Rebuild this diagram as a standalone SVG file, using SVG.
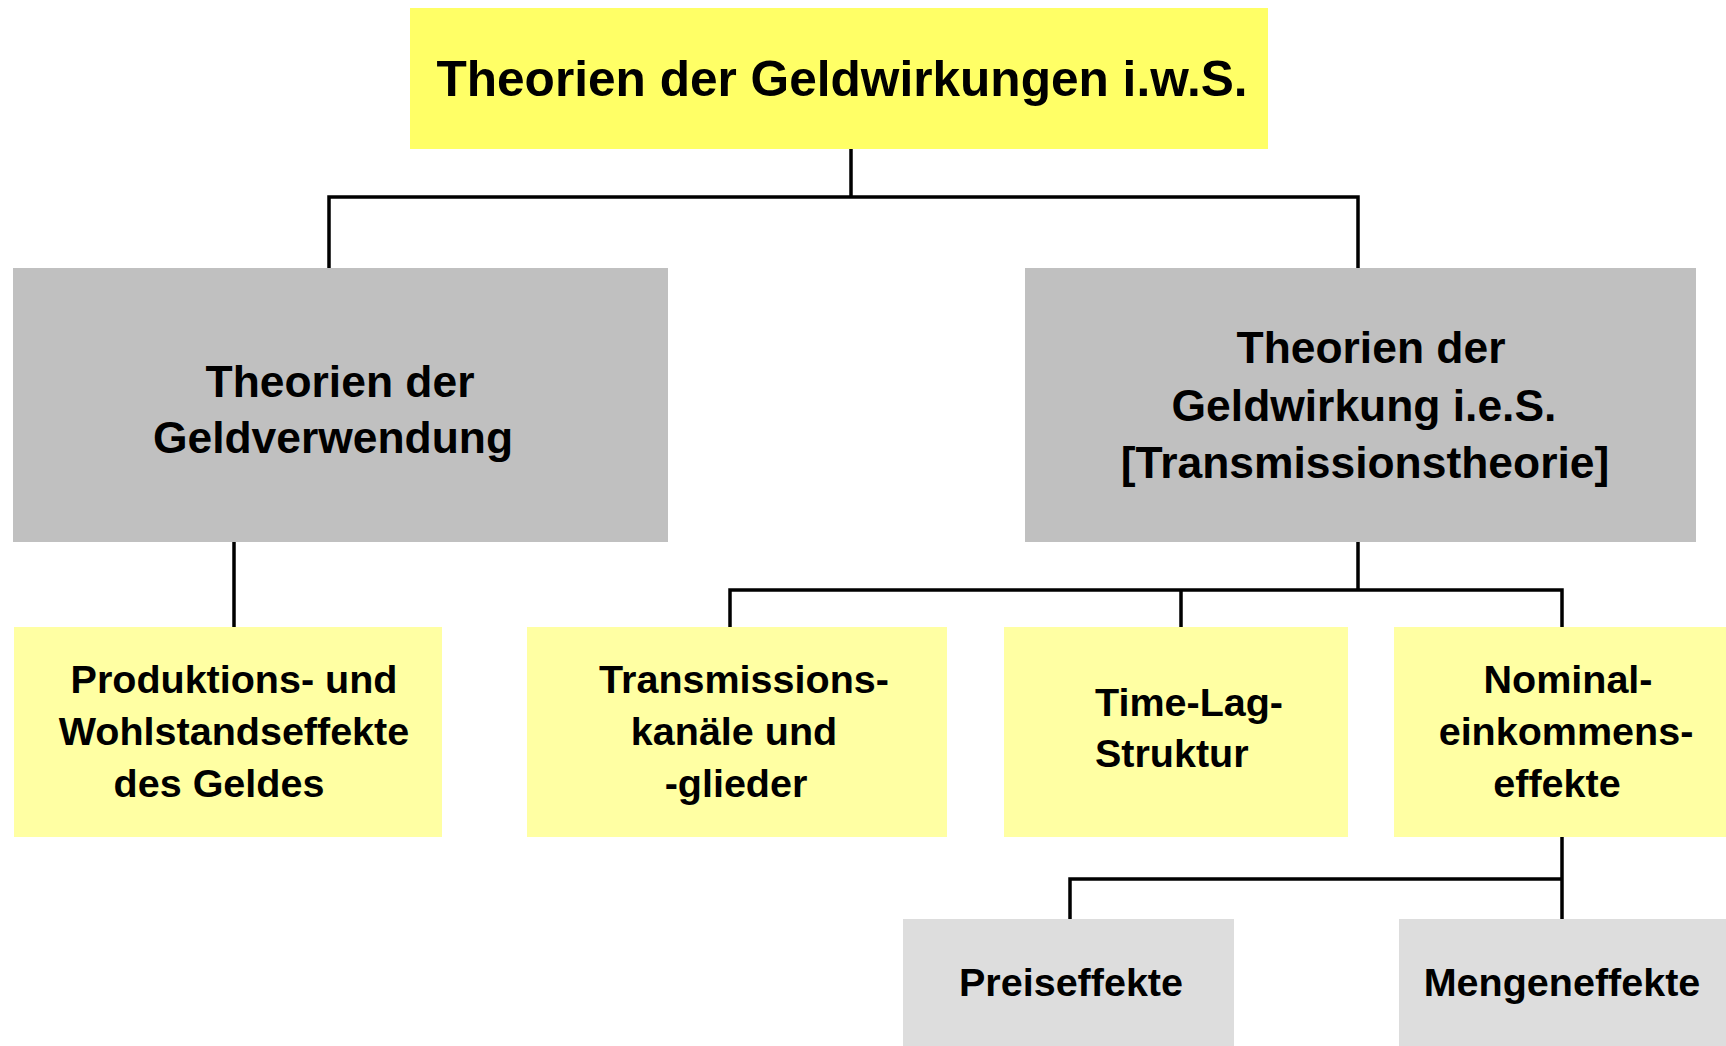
<svg xmlns="http://www.w3.org/2000/svg" width="1726" height="1046" viewBox="0 0 1726 1046">
<style>
text{font-family:"Liberation Sans",Arial,sans-serif;font-weight:bold;fill:#000}
.t1{font-size:49.6px}
.t2{font-size:44.4px}
.t3{font-size:39.5px}
.c{fill:none;stroke:#000;stroke-width:3.5}
.y1{fill:#FFFF66}
.g1{fill:#C0C0C0}
.y2{fill:#FFFFA3}
.g2{fill:#DDDDDD}
</style>
<rect width="1726" height="1046" fill="#fff"/>
<g id="connectors">
<path class="c" d="M851 149V197M329 268V197H1358V268"/>
<path class="c" d="M234 542V627"/>
<path class="c" d="M1358 542V590M730 627V590H1562V627M1181 590V627"/>
<path class="c" d="M1562 837V919M1070 919V879H1562"/>
</g>
<g id="root">
<rect class="y1" x="410" y="8" width="858" height="141"/>
<text class="t1" x="842" y="96" text-anchor="middle">Theorien der Geldwirkungen i.w.S.</text>
</g>
<g id="geldverwendung">
<rect class="g1" x="13" y="268" width="655" height="274"/>
<text class="t2" x="340" y="397" text-anchor="middle">Theorien der</text>
<text class="t2" x="333" y="453" text-anchor="middle">Geldverwendung</text>
</g>
<g id="geldwirkung">
<rect class="g1" x="1025" y="268" width="671" height="274"/>
<text class="t2" x="1371" y="363" text-anchor="middle">Theorien der</text>
<text class="t2" x="1364" y="421" text-anchor="middle">Geldwirkung i.e.S.</text>
<text class="t2" x="1365" y="478" text-anchor="middle">[Transmissionstheorie]</text>
</g>
<g id="produktion">
<rect class="y2" x="14" y="627" width="428" height="210"/>
<text class="t3" x="234" y="693" text-anchor="middle">Produktions- und</text>
<text class="t3" x="234" y="745" text-anchor="middle">Wohlstandseffekte</text>
<text class="t3" x="219" y="797" text-anchor="middle">des Geldes</text>
</g>
<g id="transmission">
<rect class="y2" x="527" y="627" width="420" height="210"/>
<text class="t3" x="744" y="693" text-anchor="middle">Transmissions-</text>
<text class="t3" x="734" y="745" text-anchor="middle">kanäle und</text>
<text class="t3" x="736" y="797" text-anchor="middle">-glieder</text>
</g>
<g id="timelag">
<rect class="y2" x="1004" y="627" width="344" height="210"/>
<text class="t3" x="1095" y="716">Time-Lag-</text>
<text class="t3" x="1095" y="767">Struktur</text>
</g>
<g id="nominal">
<rect class="y2" x="1394" y="627" width="332" height="210"/>
<text class="t3" x="1568" y="693" text-anchor="middle">Nominal-</text>
<text class="t3" x="1566" y="745" text-anchor="middle">einkommens-</text>
<text class="t3" x="1557" y="797" text-anchor="middle">effekte</text>
</g>
<g id="preis">
<rect class="g2" x="903" y="919" width="331" height="127"/>
<text class="t3" x="1071" y="996" text-anchor="middle">Preiseffekte</text>
</g>
<g id="menge">
<rect class="g2" x="1399" y="919" width="327" height="127"/>
<text class="t3" x="1562" y="996" text-anchor="middle">Mengeneffekte</text>
</g>
</svg>
